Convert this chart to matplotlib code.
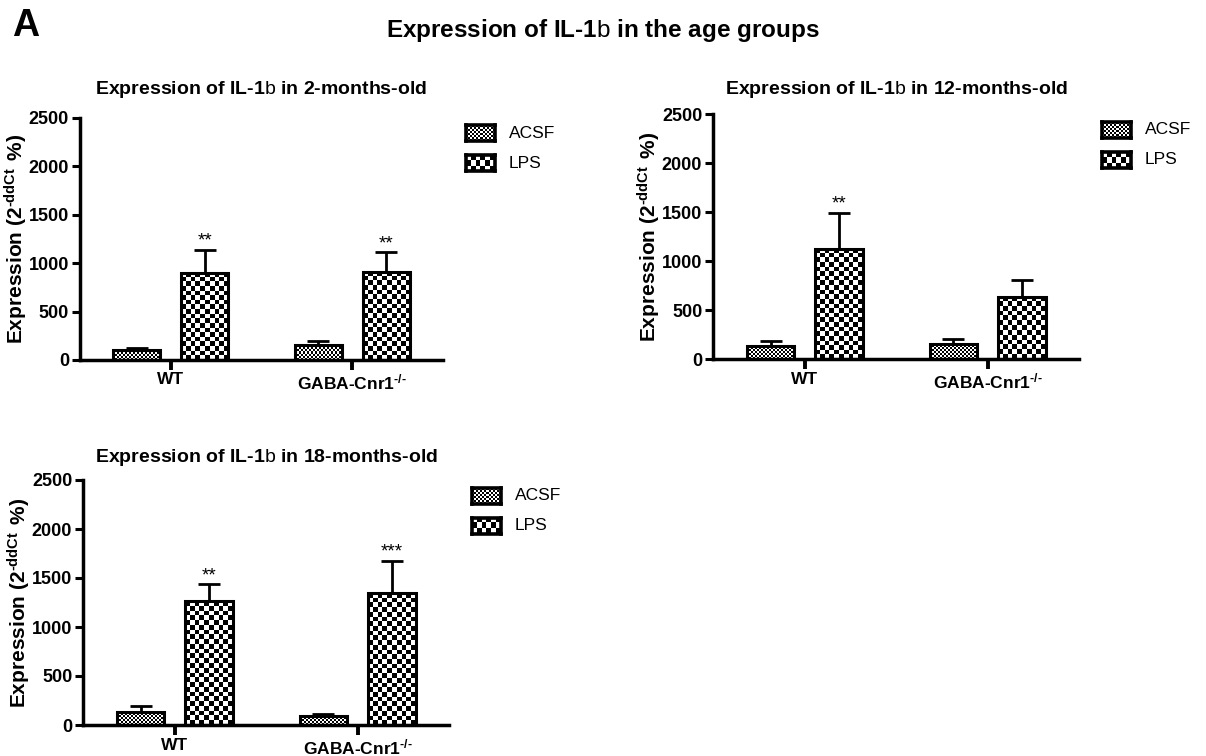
import numpy as np
import matplotlib
matplotlib.use("Agg")
import matplotlib.pyplot as plt

plt.rcParams["font.family"] = ["Liberation Sans", "DejaVu Sans"]
plt.rcParams["mathtext.fontset"] = "custom"
plt.rcParams["mathtext.rm"] = "Liberation Sans"
plt.rcParams["mathtext.bf"] = "Liberation Sans:bold"
plt.rcParams["mathtext.it"] = "Liberation Sans:italic"

HY = "\u2010"  # plain hyphen, so mathtext does not turn it into a minus

# ---- data -------------------------------------------------------------
genotypes = ["WT", r"GABA-Cnr1$^{\mathbf{" + HY + "/" + HY + "}}$"]
treatments = ["ACSF", "LPS"]
panel_titles = [
    r"Expression of IL-1$\mathrm{b}$ in 2-months-old",
    r"Expression of IL-1$\mathrm{b}$ in 12-months-old",
    r"Expression of IL-1$\mathrm{b}$ in 18-months-old",
]
# mean expression per panel: [WT, GABA-Cnr1-/-]
acsf_2m = [100, 150]
lps_2m = [900, 910]
acsf_2m_err = [20, 45]
lps_2m_err = [240, 200]
lps_2m_sig = ["**", "**"]

acsf_12m = [135, 155]
lps_12m = [1130, 640]
acsf_12m_err = [50, 55]
lps_12m_err = [365, 165]
lps_12m_sig = ["**", ""]

acsf_18m = [135, 95]
lps_18m = [1265, 1345]
acsf_18m_err = [60, 15]
lps_18m_err = [170, 330]
lps_18m_sig = ["**", "***"]

y_ticks = [0, 500, 1000, 1500, 2000, 2500]

# ---- figure layout ------------------------------------------------------
W, H = 1206, 756
fig = plt.figure(figsize=(W / 100, H / 100), dpi=100)


def px_rect(x0, x1, ytop, ybot):
    return [x0 / W, 1 - ybot / H, (x1 - x0) / W, (ybot - ytop) / H]


rects = [
    px_rect(80, 443, 117.7, 360),
    px_rect(713.3, 1079, 114.3, 359.3),
    px_rect(83.3, 449, 480, 725),
]
title_y_px = [89, 89, 458]

CELL_ACSF = 2.0   # checker cell size in pixels
CELL_LPS = 4.7
BAR_W = 0.26
OFFSET = 0.187
LW = 2.2


def checker(nx, ny):
    nx = max(int(round(nx)), 1)
    ny = max(int(round(ny)), 1)
    return (np.indices((ny, nx)).sum(axis=0) % 2).astype(float)


def patterned_bars(ax, xs, vals, cell, px_x, px_y):
    bars = ax.bar(xs, vals, width=BAR_W, facecolor="none",
                  edgecolor="black", linewidth=LW, zorder=3)
    for bar in bars:
        x0 = bar.get_x()
        w = bar.get_width()
        h = bar.get_height()
        board = checker(w * px_x / cell, h * px_y / cell)
        im = ax.imshow(board, cmap="gray_r", vmin=0, vmax=1,
                       extent=[x0, x0 + w, 0, h], origin="lower",
                       aspect="auto", interpolation="nearest", zorder=2)
        im.set_clip_path(bar)
    return bars


def swatch(ax, rect_axes, cell, nx_px, ny_px):
    sw = ax.inset_axes(rect_axes)
    sw.imshow(checker(nx_px / cell, ny_px / cell), cmap="gray_r",
              vmin=0, vmax=1, aspect="auto", interpolation="nearest")
    sw.set_xticks([])
    sw.set_yticks([])
    for s in sw.spines.values():
        s.set_linewidth(2.6)
        s.set_color("black")


panels = [
    (acsf_2m, lps_2m, acsf_2m_err, lps_2m_err, lps_2m_sig),
    (acsf_12m, lps_12m, acsf_12m_err, lps_12m_err, lps_12m_sig),
    (acsf_18m, lps_18m, acsf_18m_err, lps_18m_err, lps_18m_sig),
]

for rect, ty, title, (acsf, lps, acsf_e, lps_e, sig) in zip(rects, title_y_px,
                                                            panel_titles, panels):
    ax = fig.add_axes(rect)
    ax_w_px = rect[2] * W
    ax_h_px = rect[3] * H
    xlim = (-0.5, 1.5)
    ylim = (0, 2500)
    px_x = ax_w_px / (xlim[1] - xlim[0])
    px_y = ax_h_px / (ylim[1] - ylim[0])

    x = np.arange(len(genotypes))
    xa = x - OFFSET
    xl = x + OFFSET

    ax.errorbar(xa, acsf, yerr=[np.zeros(len(acsf)), acsf_e], fmt="none",
                ecolor="black", elinewidth=2.0, capsize=8, capthick=2.0,
                zorder=1)
    ax.errorbar(xl, lps, yerr=[np.zeros(len(lps)), lps_e], fmt="none",
                ecolor="black", elinewidth=2.0, capsize=8, capthick=2.0,
                zorder=1)
    patterned_bars(ax, xa, acsf, CELL_ACSF, px_x, px_y)
    patterned_bars(ax, xl, lps, CELL_LPS, px_x, px_y)

    for xi, v, e, s in zip(xl, lps, lps_e, sig):
        if s:
            ax.annotate(s, (xi, v + e), xytext=(0, 0), textcoords="offset points",
                        ha="center", va="bottom", fontsize=13.5)

    ax.set_xlim(*xlim)
    ax.set_ylim(*ylim)
    ax.set_yticks(y_ticks)
    ax.set_xticks(x)
    ax.set_xticklabels(genotypes, fontsize=12.5, fontweight="bold")
    ax.tick_params(axis="y", labelsize=13, width=LW, length=6, pad=2)
    ax.tick_params(axis="x", width=LW + 0.6, length=7, pad=2)
    for lab in ax.get_yticklabels():
        lab.set_fontweight("bold")
    for side in ("top", "right"):
        ax.spines[side].set_visible(False)
    for side in ("left", "bottom"):
        ax.spines[side].set_linewidth(LW + 0.3)
    ax.set_ylabel(r"Expression (2$^{\mathbf{" + HY + r"ddCt}\,}$ %)",
                  fontsize=15, fontweight="bold")
    ax.yaxis.set_label_coords(-50 / ax_w_px, 0.5)
    fig.text(rect[0] + rect[2] / 2, 1 - ty / H, title,
             ha="center", va="center", fontsize=14, fontweight="bold")

    # legend swatches and labels, placed to the right of the axes
    sx0 = 1 + 23 / ax_w_px
    sw_w = 29 / ax_w_px
    sw_h = 16 / ax_h_px
    rows = [(treatments[0], 1 - 15.5 / ax_h_px, CELL_ACSF),
            (treatments[1], 1 - 45.5 / ax_h_px, CELL_LPS)]
    for name, yc, cell in rows:
        swatch(ax, [sx0, yc - sw_h / 2, sw_w, sw_h], cell, 29, 16)
        ax.text(sx0 + sw_w + 14 / ax_w_px, yc, name, transform=ax.transAxes,
                ha="left", va="center", fontsize=12.5, clip_on=False)

fig.text(603 / W, 1 - 30 / H, r"Expression of IL-1$\mathrm{b}$ in the age groups",
         ha="center", va="center", fontsize=17.5, fontweight="bold")
fig.text(12 / W, 1 - 26 / H, "A", ha="left", va="center", fontsize=27,
         fontweight="bold")

fig.savefig("out.png", dpi=100)
